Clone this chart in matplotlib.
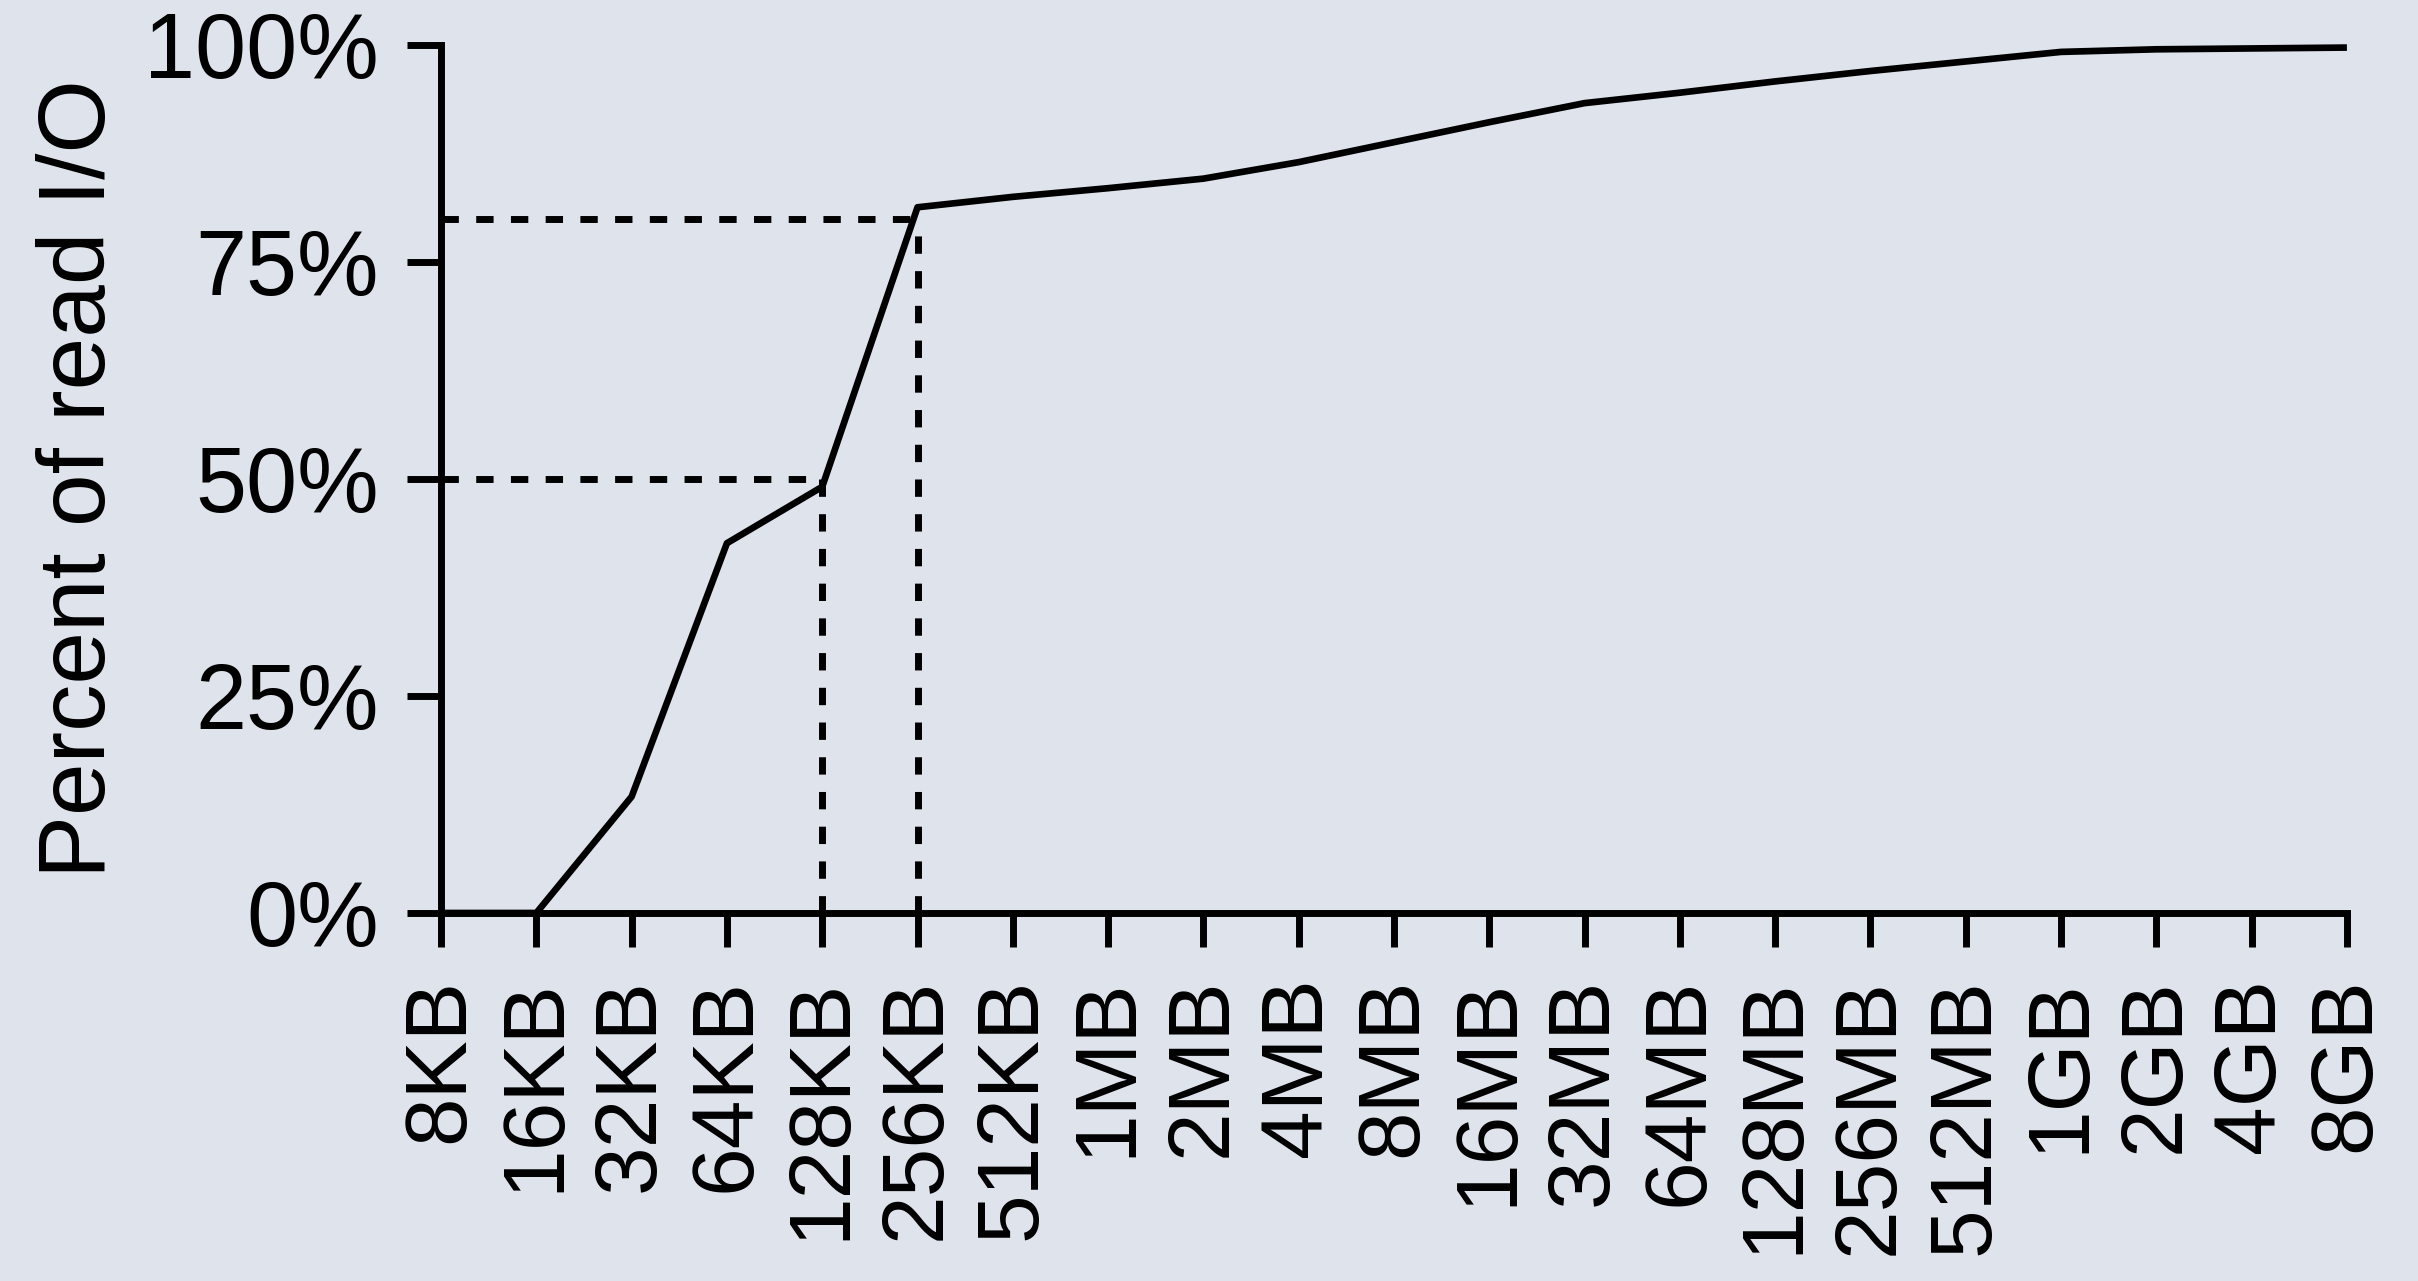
import matplotlib
matplotlib.use("Agg")
import matplotlib.pyplot as plt
from matplotlib.ticker import FixedLocator, FuncFormatter

# Request sizes (x axis categories, doubling each step)
sizes = ["8KB", "16KB", "32KB", "64KB", "128KB", "256KB", "512KB",
         "1MB", "2MB", "4MB", "8MB", "16MB", "32MB", "64MB", "128MB",
         "256MB", "512MB", "1GB", "2GB", "4GB", "8GB"]

# Cumulative percent of read I/O at or below each size
cum_pct = [0.0, 0.0, 13.4, 42.6, 49.1, 81.3, 82.5, 83.5, 84.6, 86.5,
           88.8, 91.1, 93.3, 94.5, 95.8, 97.0, 98.1, 99.2, 99.5, 99.6, 99.7]

# Reference markers: (size label, percent level)
markers = [("128KB", 50), ("256KB", 80)]

y_ticks = [0, 25, 50, 75, 100]

BG = "#dfe3ec"
FONT = "Liberation Sans"
LW = 5.0

plt.rcParams["font.family"] = [FONT, "DejaVu Sans"]

fig = plt.figure(figsize=(24.18, 12.81), dpi=100, facecolor=BG)
ax = fig.add_axes([0.1824, 0.2873, 0.9706 - 0.1824, 0.9649 - 0.2873])
ax.set_facecolor(BG)

xs = list(range(len(sizes)))
ax.plot(xs, cum_pct, color="black", lw=4.8, solid_joinstyle="round",
        solid_capstyle="butt", clip_on=False, zorder=3)

for label, level in markers:
    xi = sizes.index(label)
    ax.plot([0, xi], [level, level], color="black", lw=LW,
            linestyle=(0, (2.5, 2.5)), dash_capstyle="butt", zorder=2)
    ax.plot([xi, xi], [0, level], color="black", lw=LW,
            linestyle=(0, (2.5, 2.5)), dash_capstyle="butt", zorder=2)

ax.set_xlim(0, len(sizes) - 1)
ax.set_ylim(0, 100)

for side in ("top", "right"):
    ax.spines[side].set_visible(False)
for side in ("left", "bottom"):
    ax.spines[side].set_linewidth(LW)
    ax.spines[side].set_capstyle("projecting")

ax.xaxis.set_major_locator(FixedLocator(xs))
ax.set_xticklabels(sizes, rotation=90, fontsize=63, va="top", ha="center")
ax.yaxis.set_major_locator(FixedLocator(y_ticks))
ax.yaxis.set_major_formatter(FuncFormatter(lambda v, _: f"{int(v)}%"))

ax.tick_params(axis="x", direction="out", length=24.5, width=LW, pad=22,
               labelsize=63)
ax.tick_params(axis="y", direction="out", length=24.5, width=LW, pad=20,
               labelsize=66)

ax.set_ylabel("Percent of read I/O", fontsize=68)
ax.yaxis.set_label_coords(-0.166, 0.5)

fig.savefig("out.png", dpi=100, facecolor=BG)
